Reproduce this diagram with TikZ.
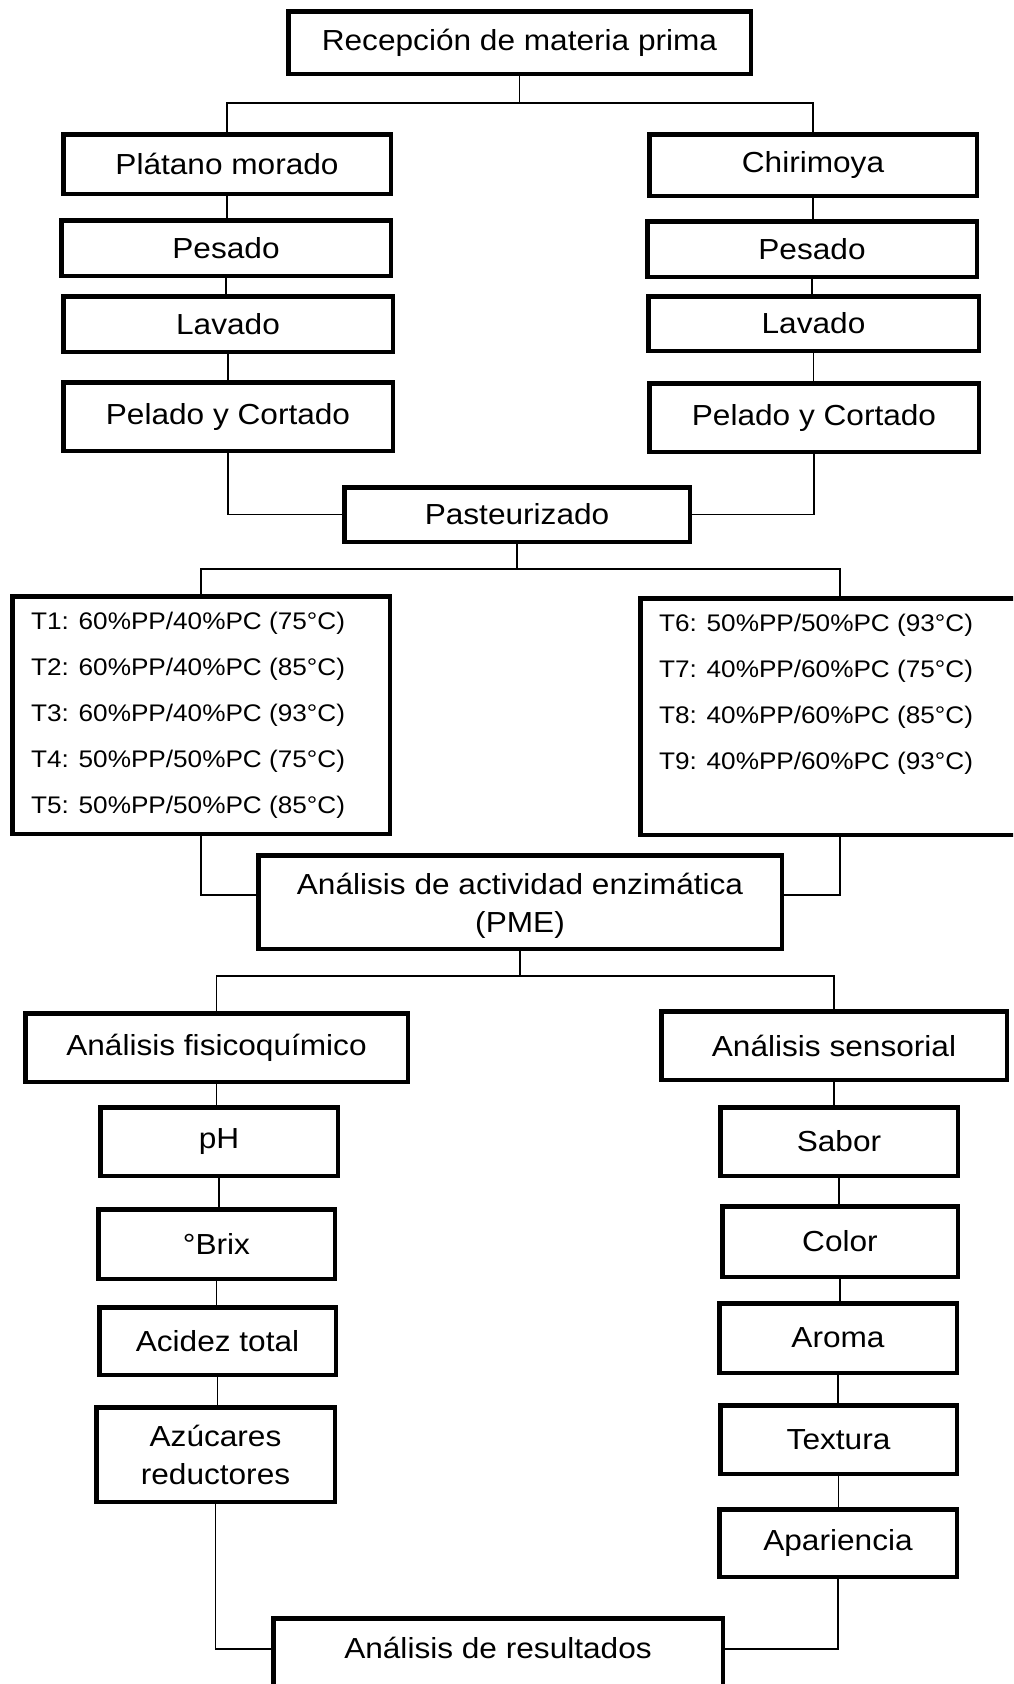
\documentclass[tikz,border=0pt]{standalone}
\usepackage{fontspec}
\setmainfont{Liberation Sans}[FakeStretch=1.09]
\begin{document}
\begin{tikzpicture}[x=1pt,y=-1pt,
  pbox/.style={draw, line width=4.5pt, inner sep=0pt, align=center,
    font=\fontsize{29}{38}\selectfont},
  ttext/.style={inner sep=0pt, align=left, anchor=west,
    font=\fontsize{24}{46}\selectfont},
  conn/.style={line width=1.5pt}]
\useasboundingbox (0,0) rectangle (1013,1684);
\clip (0,0) rectangle (1013,1684);
\newcommand\bx[6]{\node[pbox, minimum width={#4-#2-4.5}, minimum height={#5-#3-4.5}] (#1) at ({(#2+#4)/2},{(#3+#5)/2}) {#6};}
% boxes
\bx{top}{286}{9}{753}{76}{Recepción de materia prima}
\bx{plat}{61}{132}{393}{196}{Plátano morado}
\bx{chir}{647}{132}{979}{198}{Chirimoya}
\bx{pesL}{59}{218}{393}{278}{Pesado}
\bx{pesR}{645}{219}{979}{279}{Pesado}
\bx{lavL}{61}{294}{395}{354}{Lavado}
\bx{lavR}{646}{294}{981}{353}{Lavado}
\bx{pelL}{61}{380}{395}{453}{Pelado y Cortado}
\bx{pelR}{647}{381}{981}{454}{Pelado y Cortado}
\bx{past}{342}{485}{692}{544}{Pasteurizado}
\bx{tL}{10}{594}{392}{836}{}
\bx{tR}{638}{596}{1042}{837}{}
\node[ttext] (tLtxt) at (31,715) {T1: 60\%PP/40\%PC (75°C)\\T2: 60\%PP/40\%PC (85°C)\\T3: 60\%PP/40\%PC (93°C)\\T4: 50\%PP/50\%PC (75°C)\\T5: 50\%PP/50\%PC (85°C)};
\node[ttext] (tRtxt) at (659,694) {T6: 50\%PP/50\%PC (93°C)\\T7: 40\%PP/60\%PC (75°C)\\T8: 40\%PP/60\%PC (85°C)\\T9: 40\%PP/60\%PC (93°C)};
\bx{act}{256}{853}{784}{951}{\raisebox{-4pt}[\height][\depth]{Análisis de actividad enzimática}\\\raisebox{-4pt}[\height][\depth]{(PME)}}
\bx{fis}{23}{1011}{410}{1084}{Análisis fisicoquímico}
\bx{sen}{659}{1009}{1009}{1082}{Análisis sensorial}
\bx{ph}{98}{1105}{340}{1178}{pH}
\bx{sab}{718}{1105}{960}{1178}{Sabor}
\bx{brix}{96}{1207}{337}{1281}{°Brix}
\bx{col}{720}{1204}{960}{1279}{Color}
\bx{aci}{97}{1305}{338}{1377}{Acidez total}
\bx{aro}{717}{1301}{959}{1375}{Aroma}
\bx{azu}{94}{1405}{337}{1504}{Azúcares\\reductores}
\bx{tex}{718}{1403}{959}{1476}{Textura}
\bx{apa}{717}{1507}{959}{1579}{Apariencia}
\bx{res}{271}{1616}{725}{1692}{\raisebox{6pt}[\height][\depth]{Análisis de resultados}}
% junctions
\coordinate (j1) at (519,103);
\coordinate (j2) at (519,569);
\coordinate (j3) at (521,976);
% connectors
\draw[conn] (top.south) -- (top.south |- j1);
\draw[conn] (plat.north) |- (j1) -| (chir.north);
\foreach \a/\b in {plat/pesL,pesL/lavL,lavL/pelL,chir/pesR,pesR/lavR,lavR/pelR,
  fis/ph,ph/brix,brix/aci,aci/azu,sen/sab,sab/col,col/aro,aro/tex,tex/apa}
  \draw[conn] (\a.south) -- (\a.south |- \b.north);
\draw[conn] (pelL.south) |- (past.west);
\draw[conn] (pelR.south) |- (past.east);
\draw[conn] (past.south) -- (past.south |- j2);
\draw[conn] (tL.north) |- (j2) -| (tR.north);
\draw[conn] (tL.south) |- ([yshift=7pt]act.west);
\draw[conn] (tR.south) |- ([yshift=7pt]act.east);
\draw[conn] (act.south) -- (act.south |- j3);
\draw[conn] (fis.north) |- (j3) -| (sen.north);
\draw[conn] (azu.south) |- ([yshift=5pt]res.west);
\draw[conn] (apa.south) |- ([yshift=5pt]res.east);
\end{tikzpicture}
\end{document}
